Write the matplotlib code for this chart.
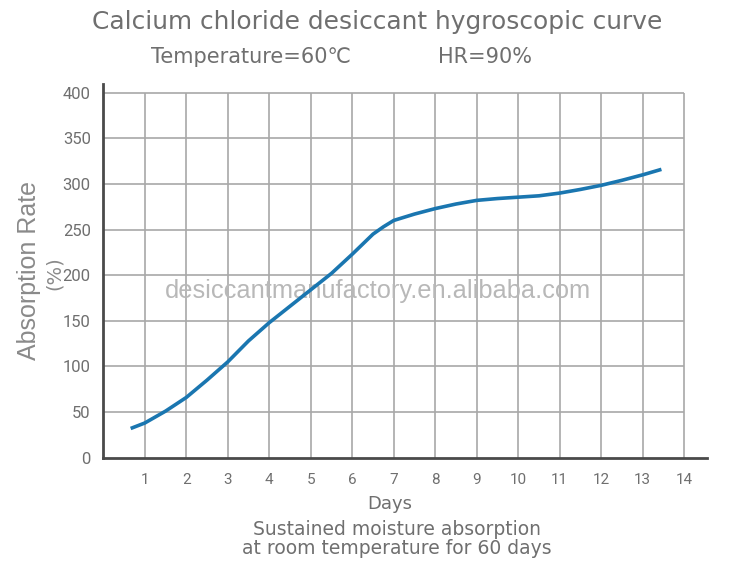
import matplotlib
matplotlib.use('Agg')
import matplotlib.pyplot as plt

plt.rcParams['font.family'] = ['Roboto', 'DejaVu Sans']

# data
days = [0.66, 1, 1.5, 2, 2.5, 3, 3.5, 4, 4.5, 5, 5.5, 6, 6.5, 6.75, 7, 7.5,
        8, 8.5, 9, 9.5, 10, 10.5, 11, 11.5, 12, 12.5, 13, 13.45]
rate = [32, 38, 51, 66, 85, 105, 128, 148, 166, 184, 202, 223, 245, 253, 260, 267,
        273, 278, 282, 284, 285.5, 287, 290, 294, 298.5, 304, 310, 316]

x_ticks = list(range(1, 15))
y_ticks = list(range(0, 401, 50))

grey = '#6f6f6f'
grid_c = '#a8a8a8'
head_font = ['DejaVu Sans']
arial = ['Liberation Sans', 'DejaVu Sans']

fig = plt.figure(figsize=(7.5, 5.8), dpi=100)
ax = fig.add_axes([0.1377, 0.2109, 0.8045, 0.645])

ax.set_xlim(0, 14.54)
ax.set_ylim(0, 410)

# grid: horizontal lines stop at day 14, vertical ones at 400
ax.hlines(y_ticks[1:], 0, x_ticks[-1], color=grid_c, lw=1.2, zorder=1)
ax.vlines(x_ticks, 0, y_ticks[-1], color=grid_c, lw=1.2, zorder=1)

ax.plot(days, rate, color='#1a76b0', lw=2.6, solid_capstyle='butt',
        solid_joinstyle='round', zorder=3)

for s in ['top', 'right']:
    ax.spines[s].set_visible(False)
for s in ['left', 'bottom']:
    ax.spines[s].set_color('#4a4a4a')
    ax.spines[s].set_linewidth(2)

ax.set_xticks(x_ticks)
ax.set_yticks(y_ticks)
ax.tick_params(axis='both', length=0, colors=grey, labelsize=11)
ax.tick_params(axis='x', pad=11)
ax.tick_params(axis='y', pad=9, labelsize=12)

# watermark
ax.text(6.62, 183, 'desiccantmanufactory.en.alibaba.com',
        ha='center', va='center', fontsize=18.3, color='#b8b8b8',
        family=arial, zorder=2)

fig.text(377 / 750, 1 - 22 / 580, 'Calcium chloride desiccant hygroscopic curve',
         ha='center', va='center', fontsize=17.9, color=grey, family=head_font)
fig.text(251 / 750, 1 - 57 / 580, 'Temperature=60℃',
         ha='center', va='center', fontsize=15, color=grey, family=head_font)
fig.text(485 / 750, 1 - 57 / 580, 'HR=90%',
         ha='center', va='center', fontsize=15, color=grey, family=head_font)

fig.text(29 / 750, 1 - 271 / 580, 'Absorption Rate', rotation=90,
         ha='center', va='center', fontsize=18, color='#8a8a8a', family=arial)
fig.text(54 / 750, 1 - 273 / 580, '(%)', rotation=90,
         ha='center', va='center', fontsize=14, color='#8a8a8a', family=head_font)

fig.text(390 / 750, 1 - 504 / 580, 'Days',
         ha='center', va='center', fontsize=13, color=grey, family=head_font)
fig.text(397 / 750, 1 - 539 / 580,
         'Sustained moisture absorption\nat room temperature for 60 days',
         ha='center', va='center', fontsize=13.5, color=grey, linespacing=1.0,
         family=head_font)

fig.savefig('out.png', dpi=100)
